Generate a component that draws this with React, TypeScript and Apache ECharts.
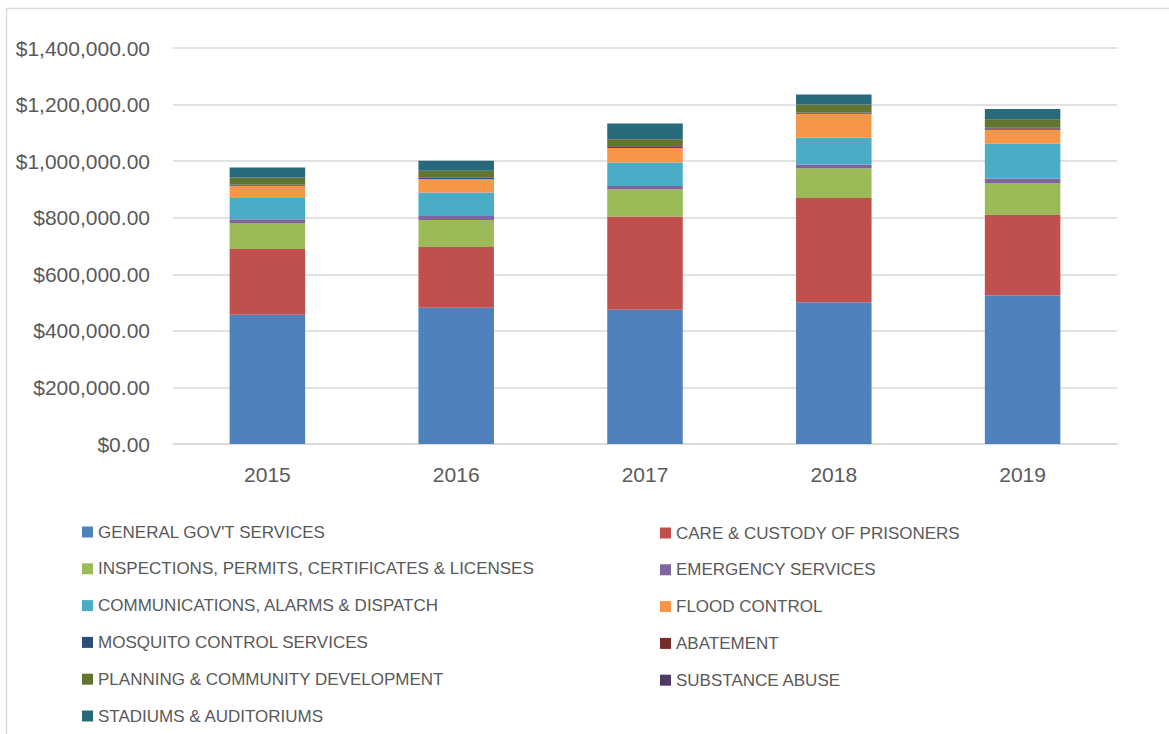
import React, { useEffect, useRef } from "react";
import * as echarts from "echarts";

const years = ["2015", "2016", "2017", "2018", "2019"];

const seriesNames = [
  "GENERAL GOV'T SERVICES",
  "CARE & CUSTODY OF PRISONERS",
  "INSPECTIONS, PERMITS, CERTIFICATES & LICENSES",
  "EMERGENCY SERVICES",
  "COMMUNICATIONS, ALARMS & DISPATCH",
  "FLOOD CONTROL",
  "MOSQUITO CONTROL SERVICES",
  "ABATEMENT",
  "PLANNING & COMMUNITY DEVELOPMENT",
  "SUBSTANCE ABUSE",
  "STADIUMS & AUDITORIUMS",
];

const generalGov = [457000, 482000, 475000, 501000, 525000];
const careCustody = [232000, 214500, 329000, 369000, 285000];
const inspections = [92000, 95500, 96500, 105000, 113000];
const emergency = [14000, 14000, 11700, 13100, 15600];
const communications = [74300, 82800, 82800, 94200, 122500];
const floodControl = [43900, 48100, 51700, 85000, 49600];
const mosquito = [3000, 3500, 5000, 3500, 5000];
const abatement = [1000, 1000, 1500, 1500, 2000];
const planning = [23700, 24000, 24000, 27000, 30000];
const substanceAbuse = [1000, 1000, 1000, 1000, 1000];
const stadiums = [35400, 35000, 55000, 35400, 35400];

const seriesValues = [
  generalGov,
  careCustody,
  inspections,
  emergency,
  communications,
  floodControl,
  mosquito,
  abatement,
  planning,
  substanceAbuse,
  stadiums,
];

const colors = [
  "#4F81BD",
  "#C0504D",
  "#9BBB59",
  "#8064A2",
  "#4BACC6",
  "#F79646",
  "#2C4D75",
  "#772C2A",
  "#5F7530",
  "#4D3B62",
  "#276A7C",
];

const yTicks = [0, 200000, 400000, 600000, 800000, 1000000, 1200000, 1400000];

function fmtMoney(v: number): string {
  const s = Math.round(v).toString();
  const withCommas = s.replace(/\B(?=(\d{3})+(?!\d))/g, ",");
  return "$" + withCommas + ".00";
}

const FONT = "'Liberation Sans', Arial, sans-serif";
const TEXT = "#595959";

export default function App() {
  const ref = useRef<HTMLDivElement>(null);
  useEffect(() => {
    document.body.style.margin = "0";
    if (!ref.current) return;
    const chart = echarts.init(ref.current, undefined, { renderer: "svg" });
    const leftLegend = [0, 2, 4, 6, 8, 10].map((i) => seriesNames[i]);
    const rightLegend = [1, 3, 5, 7, 9].map((i) => seriesNames[i]);
    const legendCommon = {
      orient: "vertical" as const,
      icon: "rect",
      itemWidth: 11,
      itemHeight: 11,
      itemGap: 16.8,
      padding: 0,
      selectedMode: false,
      textStyle: {
        color: TEXT,
        fontFamily: FONT,
        fontSize: 17,
        lineHeight: 20,
      },
    };
    chart.setOption({
      animation: false,
      color: colors,
      grid: { left: 173, right: 52, top: 48, height: 396 },
      legend: [
        { ...legendCommon, left: 82, top: 522, data: leftLegend },
        { ...legendCommon, left: 660, top: 523, data: rightLegend },
      ],
      xAxis: {
        type: "category",
        data: years,
        axisTick: { show: false },
        axisLine: { show: true, lineStyle: { color: "#D9D9D9", width: 1.5 } },
        axisLabel: { color: TEXT, fontFamily: FONT, fontSize: 21, margin: 20 },
      },
      yAxis: {
        type: "value",
        min: yTicks[0],
        max: yTicks[yTicks.length - 1],
        interval: yTicks[1] - yTicks[0],
        axisLine: { show: false },
        axisTick: { show: false },
        splitLine: { lineStyle: { color: "#D9D9D9", width: 1.5 } },
        axisLabel: {
          color: TEXT,
          fontFamily: FONT,
          fontSize: 21,
          margin: 23,
          formatter: (v: number) => fmtMoney(v),
        },
      },
      graphic: [
        {
          type: "line",
          shape: { x1: 6, y1: 8.5, x2: 1169, y2: 8.5 },
          style: { stroke: "#D9D9D9", lineWidth: 1.5 },
        },
        {
          type: "line",
          shape: { x1: 6.5, y1: 8, x2: 6.5, y2: 734 },
          style: { stroke: "#D9D9D9", lineWidth: 1.5 },
        },
      ],
      series: seriesNames.map((name, i) => ({
        name,
        type: "bar",
        stack: "total",
        barWidth: "40%",
        data: seriesValues[i],
        itemStyle: { color: colors[i] },
      })),
    });
    return () => chart.dispose();
  }, []);
  return <div ref={ref} style={{ width: 1169, height: 734 }} />;
}
